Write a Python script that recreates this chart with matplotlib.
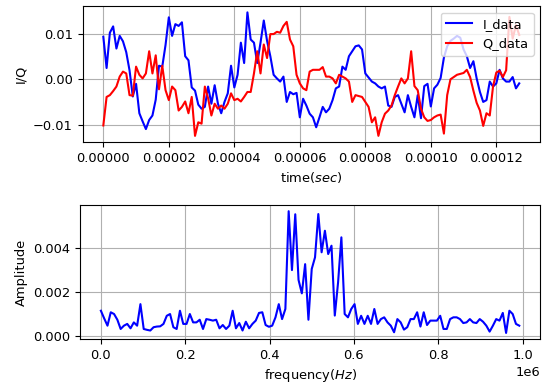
import numpy as np
import matplotlib
matplotlib.use("Agg")
import matplotlib.pyplot as plt

# sample rate 1 MHz, 128 samples
fs = 1e6
n_samples = 128

# I / Q samples (units of 1e-3)
i_data = [9.4, 2.5, 10.3, 11.7, 6.8, 9.6, 8.4, 6.0, 2.0, -3.8,
          -1.0, -7.5, -9.3, -11.0, -9.0, -8.0, -4.5, 3.0, 2.8, 7.6,
          13.7, 9.6, 12.2, 11.8, 12.6, 5.1, 4.2, -1.8, -2.5, -5.6,
          -6.5, -6.1, -1.6, -5.4, -1.3, -5.4, -7.5, -5.0, -3.1, 3.0,
          -1.8, 1.0, 8.1, 3.6, 14.8, 8.8, 8.1, 3.6, 8.1, 13.0,
          8.5, 5.1, 1.0, 0.2, -0.5, 0.6, -5.0, -2.8, -3.3, -3.0,
          -8.4, -4.3, -5.8, -7.6, -8.4, -10.6, -8.4, -6.1, -7.3, -6.5,
          -4.6, -2.0, -1.6, 2.8, 2.1, 5.1, 6.2, 7.3, 7.5, 6.6,
          1.3, 0.4, -0.5, -0.9, -1.6, -2.0, -1.6, -5.8, -6.1, -3.9,
          -3.5, -5.4, -7.3, -3.5, -6.1, -8.4, -3.5, -8.6, -1.5, -1.0,
          -6.0, -2.0, -1.2, 0.3, 4.8, 7.3, 8.5, 9.0, 9.6, 9.2,
          6.6, 5.1, 2.5, 4.0, 0.2, -2.8, -5.0, -4.6, -0.5, -1.6,
          -0.9, 2.1, 0.2, -0.5, -0.5, 0.5, -2.0, -0.9]

q_data = [-10.2, -3.9, -3.5, -2.6, -1.6, 0.6, 1.7, 1.3, -3.5, -3.6,
          2.8, 1.0, 0.2, 1.3, 6.2, 1.3, 5.3, -2.2, 3.0, -2.4,
          -4.6, -1.6, -2.4, -6.9, -6.1, -4.9, -7.5, -3.9, -12.5, -9.5,
          -9.8, -1.6, -4.2, -8.0, -5.4, -6.5, -5.8, -6.5, -5.4, -3.1,
          -4.6, -4.3, -4.9, -3.9, -2.8, -2.8, 1.3, 6.2, 1.3, 7.7,
          4.7, 10.0, 10.0, 10.5, 10.3, 11.8, 12.7, 8.8, 7.3, 1.0,
          -0.9, -2.0, -2.4, 1.7, 2.1, 2.1, 2.1, 2.7, 0.6, 0.6,
          0.2, -0.9, 1.0, 0.6, 0.2, -0.5, -5.0, -3.5, -3.7, -3.9,
          -5.0, -6.1, -9.5, -8.4, -12.5, -9.5, -7.6, -6.9, -5.8, -3.5,
          -1.6, 0.2, -0.9, 0.2, 6.2, -1.5, -2.4, -6.5, -8.4, -9.2,
          -9.0, -8.4, -8.0, -7.8, -12.0, -3.5, 0.0, 0.5, 1.0, 1.2,
          1.4, 2.1, 0.5, -2.5, -5.2, -6.9, -10.3, -7.5, -8.0, -1.6,
          1.5, 1.9, 0.5, 2.0, 13.8, 9.0, 12.0, 9.8]

# FFT magnitude per bin (units of 1e-3)
amplitude = [1.13, 0.78, 0.45, 1.06, 0.98, 0.72, 0.30, 0.45, 0.53, 0.33,
             0.60, 0.45, 1.43, 0.30, 0.26, 0.23, 0.38, 0.41, 0.42, 0.53,
             0.90, 0.98, 0.38, 0.30, 1.13, 0.53, 0.53, 0.98, 0.60, 0.60,
             0.72, 0.30, 0.75, 0.72, 0.68, 0.72, 0.33, 0.48, 0.30, 0.45,
             1.13, 0.33, 0.57, 0.23, 0.63, 0.33, 0.53, 0.68, 1.03, 1.06,
             0.48, 0.40, 0.45, 0.83, 1.43, 0.75, 1.21, 5.66, 2.98, 5.52,
             2.53, 1.92, 3.25, 0.72, 3.03, 3.56, 5.53, 3.79, 4.77, 3.71,
             4.09, 0.91, 2.42, 4.47, 0.98, 0.83, 1.21, 1.43, 0.53, 0.90,
             0.53, 0.90, 0.53, 1.21, 0.53, 0.75, 0.83, 0.60, 0.45, 0.15,
             0.75, 0.60, 0.27, 0.38, 0.75, 0.75, 1.06, 0.41, 1.06, 0.48,
             0.68, 0.68, 0.68, 0.90, 0.30, 0.30, 0.75, 0.83, 0.83, 0.75,
             0.57, 0.60, 0.75, 0.60, 0.57, 0.75, 0.63, 0.45, 0.18, 0.45,
             0.75, 0.68, 1.03, 0.12, 1.13, 0.98, 0.53, 0.45]


def main():
    plt.rcParams['font.size'] = 9.4
    t = np.arange(n_samples) / fs
    freq = np.arange(n_samples) * fs / n_samples

    fig = plt.figure(figsize=(5.44, 3.87), dpi=100)
    ax1 = fig.add_axes([0.1517, 0.633, 0.841, 0.351])
    ax2 = fig.add_axes([0.147, 0.124, 0.846, 0.346])

    ax1.plot(t, np.array(i_data) * 1e-3, color='blue', label='I_data')
    ax1.plot(t, np.array(q_data) * 1e-3, color='red', label='Q_data')
    ax1.set_xlabel('time($sec$)')
    ax1.set_ylabel('I/Q')
    ax1.legend(loc='upper right')
    ax1.grid(True)

    ax2.plot(freq, np.array(amplitude) * 1e-3, color='blue')
    ax2.set_xlabel('frequency($Hz$)')
    ax2.set_ylabel('Amplitude')
    ax2.grid(True)

    fig.savefig('out.png', dpi=100)
    plt.close(fig)


if __name__ == "__main__":
    main()
